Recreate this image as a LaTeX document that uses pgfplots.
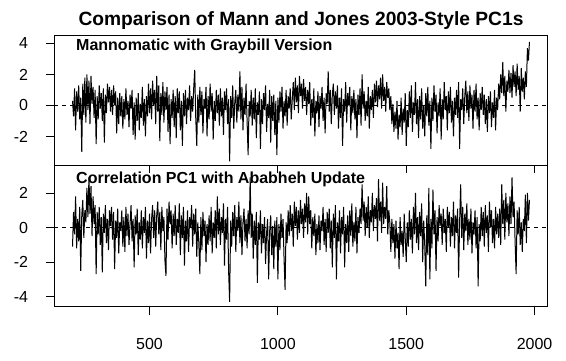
\documentclass[border=0pt]{standalone}
\usepackage{fontspec}
\setmainfont{Liberation Sans}
\usepackage{pgfplots}
\usepackage{pgfplotstable}
\pgfplotsset{compat=1.18}
\pgfplotstableread{
yr a b
200 0.3 -1.1
204 -0.7 0.9
208 1.1 -0.4
212 -1.6 1.8
216 0.9 -1.2
220 -0.4 0.5
224 1.3 -0.8
228 -0.9 1.2
232 0.5 -2.5
236 -3.0 0.7
240 1.4 1.6
244 -0.6 -0.6
248 1.8 1.0
252 -1.1 0.3
256 2.0 2.3
260 -0.3 0.6
264 1.6 2.9
268 -1.2 0.8
272 1.9 2.4
276 0.1 -0.5
280 1.2 1.8
284 -0.8 0.2
288 1.0 1.3
292 -2.5 -2.7
296 0.6 0.9
300 -0.9 -0.4
304 1.3 1.2
308 -0.2 -1.0
312 0.8 0.6
316 -1.0 -2.6
320 1.1 0.8
324 -2.4 -0.3
328 0.7 1.3
332 -0.5 -0.9
336 1.4 0.5
340 0.2 -1.3
344 1.2 1.0
348 -0.4 0.1
352 1.0 1.2
356 -0.6 -0.7
360 1.3 0.9
364 0.0 -2.4
368 0.9 0.4
372 -1.8 -0.6
376 0.5 1.1
380 -1.2 -1.5
384 0.8 0.3
388 -0.7 -0.2
392 0.6 1.0
396 -1.5 -1.1
400 0.4 0.6
404 -0.9 -1.4
408 1.1 1.2
412 -0.6 -0.5
416 0.3 0.8
420 -1.4 -1.0
424 0.7 0.2
428 -0.2 1.3
432 1.0 -0.8
436 -1.9 0.5
440 0.2 -2.3
444 -2.2 0.7
448 0.5 -0.4
452 -1.0 1.1
456 0.8 -1.6
460 -1.6 0.3
464 0.1 -0.7
468 -0.8 1.0
472 1.2 -1.2
476 -1.3 0.6
480 0.4 -0.3
484 -2.0 1.2
488 0.6 -1.8
492 -0.7 0.4
496 1.4 -0.9
500 -0.5 0.8
504 1.1 -1.5
508 -0.9 0.5
512 1.6 1.3
516 0.0 -0.6
520 1.0 1.0
524 -1.2 -1.1
528 1.9 0.7
532 -0.4 1.5
536 1.3 -0.4
540 -2.3 0.9
544 0.8 -1.3
548 -0.6 1.2
552 1.5 -0.2
556 -1.1 0.6
560 0.9 -1.9
564 -0.3 -2.8
568 1.2 1.1
572 -1.7 -0.7
576 0.7 1.5
580 -2.5 0.2
584 0.4 1.0
588 -0.8 -1.2
592 1.0 0.8
596 -1.4 -0.5
600 0.6 1.3
604 -2.1 -1.0
608 1.1 0.5
612 -0.5 -0.3
616 0.9 1.4
620 -1.6 -1.6
624 0.3 0.7
628 -2.6 -0.6
632 0.8 1.2
636 -0.7 -2.2
640 1.0 0.4
644 -1.2 -0.8
648 0.5 1.0
652 -0.3 -1.4
656 1.3 0.6
660 -1.0 0.0
664 0.6 1.3
668 -0.4 -1.1
672 1.1 0.8
676 2.3 -0.4
680 -0.8 1.1
684 -2.6 -1.7
688 0.7 0.3
692 -1.1 -0.9
696 1.2 -2.7
700 -0.6 0.6
704 0.9 -1.3
708 -1.8 0.9
712 0.4 -0.5
716 -0.2 0.4
720 1.2 -2.0
724 -2.0 0.2
728 0.6 -1.0
732 -0.9 0.7
736 1.4 -0.8
740 -0.4 1.2
744 0.8 -1.5
748 -2.2 0.3
752 0.3 -0.6
756 -1.0 1.0
760 1.0 -1.2
764 -0.5 1.8
768 0.7 -0.4
772 -1.3 1.1
776 1.1 -1.0
780 -0.7 0.6
784 0.5 -0.3
788 -1.9 1.4
792 0.9 -2.2
796 -0.3 0.5
800 1.1 -0.7
804 -1.2 1.2
808 0.4 -2.5
812 -3.6 -4.3
816 0.6 0.4
820 -0.8 -1.1
824 1.3 0.9
828 -1.5 -0.5
832 0.2 1.3
836 1.0 -1.4
840 -1.1 0.6
844 0.7 -0.2
848 -0.4 1.5
852 2.2 -0.9
856 -0.9 0.7
860 1.2 -1.6
864 -1.6 0.3
868 0.5 1.1
872 -0.6 -0.8
876 1.4 0.5
880 -1.0 -1.2
884 -3.2 1.0
888 0.3 -0.4
892 -0.7 2.9
896 1.0 -0.6
900 -1.3 0.8
904 0.5 -1.8
908 -0.9 0.4
912 1.1 -1.0
916 -2.1 0.9
920 0.2 -3.2
924 -0.6 0.3
928 0.9 -0.7
932 -2.8 1.0
936 0.4 -1.5
940 -1.2 0.2
944 0.8 -0.9
948 -0.3 0.6
952 1.3 -2.1
956 -1.7 -0.3
960 0.1 0.5
964 -0.8 -3.0
968 1.0 -0.2
972 -2.4 0.7
976 0.6 -1.6
980 -1.0 0.1
984 0.7 -2.4
988 -1.9 0.4
992 0.3 -1.1
996 -3.2 0.6
1000 0.5 -3.0
1004 -1.1 0.2
1008 0.9 -1.3
1012 -0.4 0.8
1016 1.2 -0.6
1020 -1.5 0.5
1024 0.3 -1.8
1028 -0.7 -3.6
1032 1.0 0.3
1036 -1.3 -0.9
1040 0.6 1.0
1044 -0.2 -0.5
1048 1.1 1.3
1052 -0.9 -0.2
1056 0.4 0.8
1060 1.5 -1.1
1064 -0.3 1.5
1068 1.8 0.1
1072 0.2 1.2
1076 1.3 -0.7
1080 -0.5 1.0
1084 1.9 -0.3
1088 0.6 1.6
1092 1.4 0.2
1096 -0.2 1.1
1100 1.7 -0.6
1104 0.3 1.4
1108 1.2 0.3
1112 -0.6 2.0
1116 1.0 -0.4
1120 0.1 1.8
1124 1.5 0.2
1128 -1.3 1.0
1132 0.4 -1.2
1136 -0.8 0.6
1140 1.1 -0.5
1144 -2.0 0.8
1148 0.3 -1.6
1152 -0.5 0.2
1156 0.9 -0.9
1160 -1.4 0.7
1164 0.6 -1.3
1168 -0.2 0.4
1172 1.2 -0.2
1176 -1.0 1.2
1180 0.5 -1.0
1184 -1.8 0.5
1188 0.8 -1.4
1192 0.1 0.9
1196 2.2 -0.3
1200 -0.4 1.1
1204 1.0 -1.2
1208 -1.2 0.4
1212 0.7 -2.3
1216 1.4 0.8
1220 -0.6 -0.6
1224 0.9 1.3
1228 -0.2 -3.0
1232 1.3 0.3
1236 -1.5 -0.8
1240 0.5 1.0
1244 -0.8 -1.5
1248 1.1 0.6
1252 -2.6 -0.4
1256 0.4 1.2
1260 -0.4 -2.3
1264 1.5 0.2
1268 -1.1 -0.9
1272 0.8 0.7
1276 0.0 -1.4
1280 1.2 1.0
1284 -1.6 -0.5
1288 0.6 1.4
1292 -0.5 -1.1
1296 1.0 0.3
1300 -0.9 -0.8
1304 0.4 1.2
1308 -2.1 -1.5
1312 0.7 0.6
1316 -0.6 -0.3
1320 1.1 1.1
1324 -1.3 0.2
1328 2.0 2.5
1332 -0.2 0.4
1336 0.9 1.5
1340 -1.0 -0.5
1344 0.3 1.2
1348 -0.7 0.0
1352 1.2 1.8
1356 -1.5 -0.6
1360 0.6 1.0
1364 -0.3 0.3
1368 1.0 2.0
1372 -0.8 -0.2
1376 1.4 1.3
1380 0.2 0.5
1384 1.6 1.7
1388 -0.1 -0.8
1392 1.3 2.8
1396 0.4 0.4
1400 1.8 1.5
1404 -0.2 -0.3
1408 2.0 2.6
1412 0.3 0.2
1416 1.2 1.2
1420 -0.4 0.5
1424 1.5 2.4
1428 0.5 -0.4
1432 1.1 1.0
1436 -0.3 0.3
1440 0.6 -1.4
1444 -1.2 0.5
1448 0.1 -0.9
1452 -1.7 0.2
1456 -0.4 -1.8
1460 -1.5 0.4
1464 0.3 -1.2
1468 -2.2 -0.3
1472 -0.6 -2.4
1476 -1.4 0.6
1480 0.5 -1.0
1484 -1.9 -0.2
1488 -0.2 -1.7
1492 -1.1 0.8
1496 0.8 -0.6
1500 -2.6 -2.0
1504 -0.3 0.3
1508 -1.4 -1.1
1512 0.9 1.0
1516 -0.8 -0.7
1520 1.3 0.5
1524 -1.7 -1.5
1528 0.2 1.2
1532 -0.6 -0.4
1536 1.5 2.0
1540 -1.2 -0.9
1544 0.4 0.6
1548 -2.1 -1.3
1552 0.6 0.9
1556 -0.9 -0.5
1560 1.1 1.4
1564 -1.5 -2.0
1568 0.0 0.4
1572 -2.0 -1.0
1576 0.8 -3.4
1580 -0.7 0.7
1584 1.2 -1.6
1588 -1.3 2.3
1592 0.3 -3.0
1596 -2.8 0.5
1600 0.5 -1.2
1604 -1.0 2.2
1608 1.3 -0.4
1612 -0.4 1.0
1616 0.7 -2.5
1620 -1.8 0.6
1624 0.2 -0.8
1628 -0.7 1.3
1632 1.1 0.1
1636 -2.2 0.8
1640 0.4 -1.0
1644 -0.9 1.1
1648 1.5 -0.3
1652 -0.3 0.5
1656 0.6 -1.4
1660 -1.6 1.2
1664 0.9 0.0
1668 -0.5 0.9
1672 1.2 -1.1
1676 -1.1 0.6
1680 0.3 -0.5
1684 -2.0 1.5
1688 0.5 -1.2
1692 -0.6 0.7
1696 1.0 -0.3
1700 -0.8 1.1
1704 1.5 -2.9
1708 -2.8 0.4
1712 0.4 2.5
1716 -0.3 -0.6
1720 1.1 1.2
1724 -1.2 -1.3
1728 0.6 0.8
1732 1.6 -0.2
1736 -0.5 1.4
1740 0.9 -1.0
1744 -1.0 0.5
1748 1.3 -0.7
1752 -0.2 1.1
1756 0.7 -1.5
1760 -1.5 0.3
1764 1.0 -0.4
1768 -0.4 1.0
1772 1.4 -1.2
1776 -0.9 0.6
1780 0.5 -3.4
1784 -1.6 0.2
1788 0.8 -0.8
1792 -0.3 1.2
1796 1.2 -0.5
1800 -0.6 0.9
1804 0.7 -1.1
1808 -1.2 1.3
1812 0.4 -0.3
1816 -1.7 0.7
1820 0.6 -1.4
1824 -0.5 1.5
1828 0.9 0.0
1832 -1.4 1.0
1836 0.2 -0.9
1840 -0.8 0.5
1844 1.0 -1.2
1848 -1.6 1.2
1852 0.5 -0.4
1856 -0.3 0.8
1860 1.4 -0.6
1864 0.4 1.1
1868 2.0 -1.0
1872 0.8 2.5
1876 2.8 0.2
1880 0.6 1.6
1884 1.9 -0.7
1888 -0.4 2.0
1892 1.6 0.3
1896 0.9 1.4
1900 2.3 -0.5
1904 0.8 1.8
1908 2.1 0.2
1912 0.5 2.9
1916 2.6 0.6
1920 1.2 1.5
1924 2.2 -0.8
1928 0.6 -2.7
1932 2.7 1.0
1936 1.0 -0.4
1940 1.9 1.2
1944 -0.4 -1.0
1948 2.4 0.3
1952 0.9 -1.4
1956 1.8 0.5
1960 0.4 -0.2
1964 2.2 1.9
1968 1.2 -0.9
1972 3.7 2.0
1976 2.9 0.4
1980 4.1 1.6
}\pcdata
\pgfplotsset{
  pcstyle/.style={
    scale only axis, width=493.4pt, anchor=south west,
    xmin=129, xmax=2051,
    axis line style={line width=0.9pt, black},
    tick style={line width=0.9pt, black},
    tick align=outside, major tick length=8.5pt, tick pos=left,
    xtick={500,1000,1500,2000},
    ticklabel style={font=\fontsize{16}{18}\selectfont},
    yticklabel style={anchor=east, inner sep=0pt, xshift=-17.6pt},
    xticklabel style={anchor=north, inner sep=0pt, yshift=-23.3pt},
    clip=true,
  },
}
\begin{document}
\begin{tikzpicture}[x=1pt,y=1pt]
\useasboundingbox (0,0) rectangle (566,361);
\begin{axis}[pcstyle, at={(54.3pt,196pt)}, height=129.3pt,
  ymin=-3.84, ymax=4.5, ytick={-2,0,2,4}, yticklabels={-2,0,2,4},
  xticklabels={,,,}]
\addplot[black, line width=1pt] table[x=yr, y=a] {\pcdata};
\addplot[black, line width=0.9pt, dash pattern=on 4pt off 4pt] coordinates {(129,0) (2051,0)};
\end{axis}
\begin{axis}[pcstyle, at={(54.3pt,54.3pt)}, height=141.7pt,
  ymin=-4.58, ymax=3.62, ytick={-4,-2,0,2}, yticklabels={-4,-2,0,2},
  xticklabels={500,1000,1500,2000}]
\addplot[black, line width=1pt] table[x=yr, y=b] {\pcdata};
\addplot[black, line width=0.9pt, dash pattern=on 4pt off 4pt] coordinates {(129,0) (2051,0)};
\end{axis}
\node[anchor=base, font=\fontsize{19.2}{22}\selectfont\bfseries] at (301,335) {Comparison of Mann and Jones 2003-Style PC1s};
\node[anchor=base west, inner sep=0pt, font=\fontsize{16}{18}\selectfont\bfseries] at (76,310) {Mannomatic with Graybill Version};
\node[anchor=base west, inner sep=0pt, font=\fontsize{16}{18}\selectfont\bfseries] at (76,177.5) {Correlation PC1 with Ababheh Update};
\end{tikzpicture}
\end{document}
